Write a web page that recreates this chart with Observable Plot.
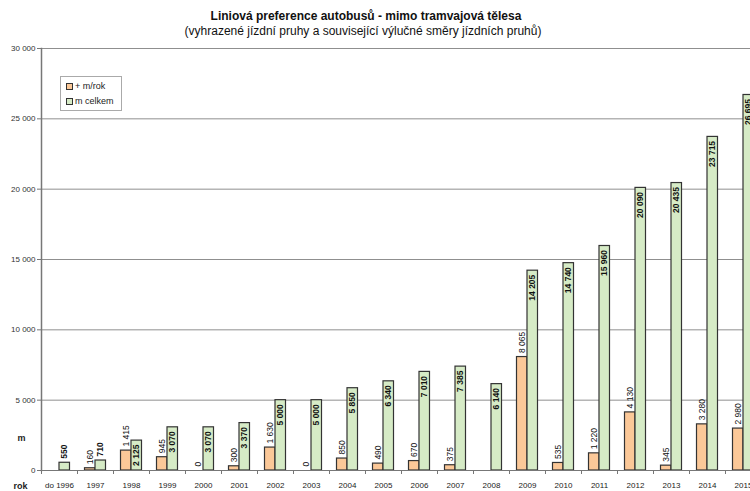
<!DOCTYPE html>
<html><head><meta charset="utf-8">
<script src="https://cdn.jsdelivr.net/npm/d3@7"></script>
<script src="https://cdn.jsdelivr.net/npm/@observablehq/plot@0.6"></script>
<style>
html,body{margin:0;padding:0;}
body{width:750px;height:491px;overflow:hidden;background:#fff;font-family:"Liberation Sans",Arial,sans-serif;position:relative;color:#111}
#title{position:absolute;left:0;top:9px;width:732px;text-align:center;font-size:12px;font-weight:bold;}
#subtitle{position:absolute;left:0;top:24px;width:726px;text-align:center;font-size:12px;}
#chart{position:absolute;left:0;top:40px}
#legend{position:absolute;left:60px;top:76px;width:60px;height:33px;border:1px solid #aaa;background:#fff;font-size:9px;color:#222}
#legend .it{position:absolute;left:5px;display:flex;align-items:center;gap:2px;white-space:nowrap}
#legend .sw{width:5px;height:5px;border:1px solid #333;display:inline-block}
</style>
</head><body>
<div id="title">Liniová preference autobusů - mimo tramvajová tělesa</div>
<div id="subtitle">(vyhrazené jízdní pruhy a související výlučné směry jízdních pruhů)</div>
<div id="chart"></div>
<div id="legend">
  <div class="it" style="top:4px"><span class="sw" style="background:#fbc898"></span><span>+ m/rok</span></div>
  <div class="it" style="top:19px"><span class="sw" style="background:#d6ebc6"></span><span>m celkem</span></div>
</div>
<script>
const years = ["do 1996","1997","1998","1999","2000","2001","2002","2003","2004","2005","2006","2007","2008","2009","2010","2011","2012","2013","2014","2015"];
const perYear = [null,160,1415,945,0,300,1630,0,850,490,670,375,null,8065,535,1220,4130,345,3280,2980];
const total = [550,710,2125,3070,3070,3370,5000,5000,5850,6340,7010,7385,6140,14205,14740,15960,20090,20435,23715,26695];
const yTicks = [0,5000,10000,15000,20000,25000,30000];

const fmt = d3.formatLocale({decimal:",", thousands:" ", grouping:[3], currency:["",""]}).format(",d");
const rows = years.map((y,i)=>({year:y, rok:perYear[i], celkem:total[i]}));
const rokRows = rows.filter(d=>d.rok!=null);
const inside = rows.filter(d=>d.celkem>=1500);
const outside = rows.filter(d=>d.celkem<1500);
const ORANGE="#fbc898", GREEN="#d6ebc6";

const plot = Plot.plot({
  width:770, height:451, marginLeft:41, marginRight:9, marginTop:8, marginBottom:21,
  style:{maxWidth:"none", overflow:"visible", background:"transparent", fontFamily:"'Liberation Sans', Arial, sans-serif"},
  x:{type:"band", domain:years, padding:0},
  y:{domain:[0,30000]},
  marks:[
    Plot.gridY(yTicks,{stroke:"#8f8f8f", strokeOpacity:1}),
    Plot.barY(rokRows,{x:"year", y:"rok", fill:ORANGE, stroke:"#333", strokeWidth:1.2, insetLeft:7.5, insetRight:18}),
    Plot.barY(rows,{x:"year", y:"celkem", fill:GREEN, stroke:"#333", strokeWidth:1.2, insetLeft:18, insetRight:7.5}),
    Plot.ruleY([0],{stroke:"#777"}),
    Plot.frame({anchor:"left", stroke:"#777", strokeWidth:1.5}),
    Plot.axisY({ticks:yTicks, tickFormat:fmt, tickSize:4, tickPadding:2, fontSize:8, color:"#333", stroke:"#777", label:null}),
    Plot.axisX({tickSize:0, tickPadding:12, fontSize:8, color:"#222", label:null}),
    Plot.axisX({tickSize:4, tickFormat:()=>"", dx:-18, stroke:"#777", label:null}),
    Plot.text(rokRows,{x:"year", y:"rok", text:d=>fmt(d.rok), rotate:-90, textAnchor:"start", lineAnchor:"middle", dx:-5.25, dy:-4, fontSize:8.5, fill:"#111"}),
    Plot.text(inside,{x:"year", y:"celkem", text:d=>fmt(d.celkem), rotate:-90, textAnchor:"end", lineAnchor:"middle", dx:5.25, dy:4, fontSize:8.5, fontWeight:"bold", fill:"#111"}),
    Plot.text(outside,{x:"year", y:"celkem", text:d=>fmt(d.celkem), rotate:-90, textAnchor:"start", lineAnchor:"middle", dx:5.25, dy:-4, fontSize:8.5, fontWeight:"bold", fill:"#111"}),
    Plot.text(["m"],{text:d=>d, frameAnchor:"bottom-left", dx:-24, dy:-30, fontSize:9, fontWeight:"bold", fill:"#222"}),
    Plot.text(["rok"],{text:d=>d, frameAnchor:"bottom-left", dx:-28, dy:18, fontSize:9, fontWeight:"bold", fill:"#222"})
  ]
});
document.getElementById("chart").appendChild(plot);
</script>
</body></html>
